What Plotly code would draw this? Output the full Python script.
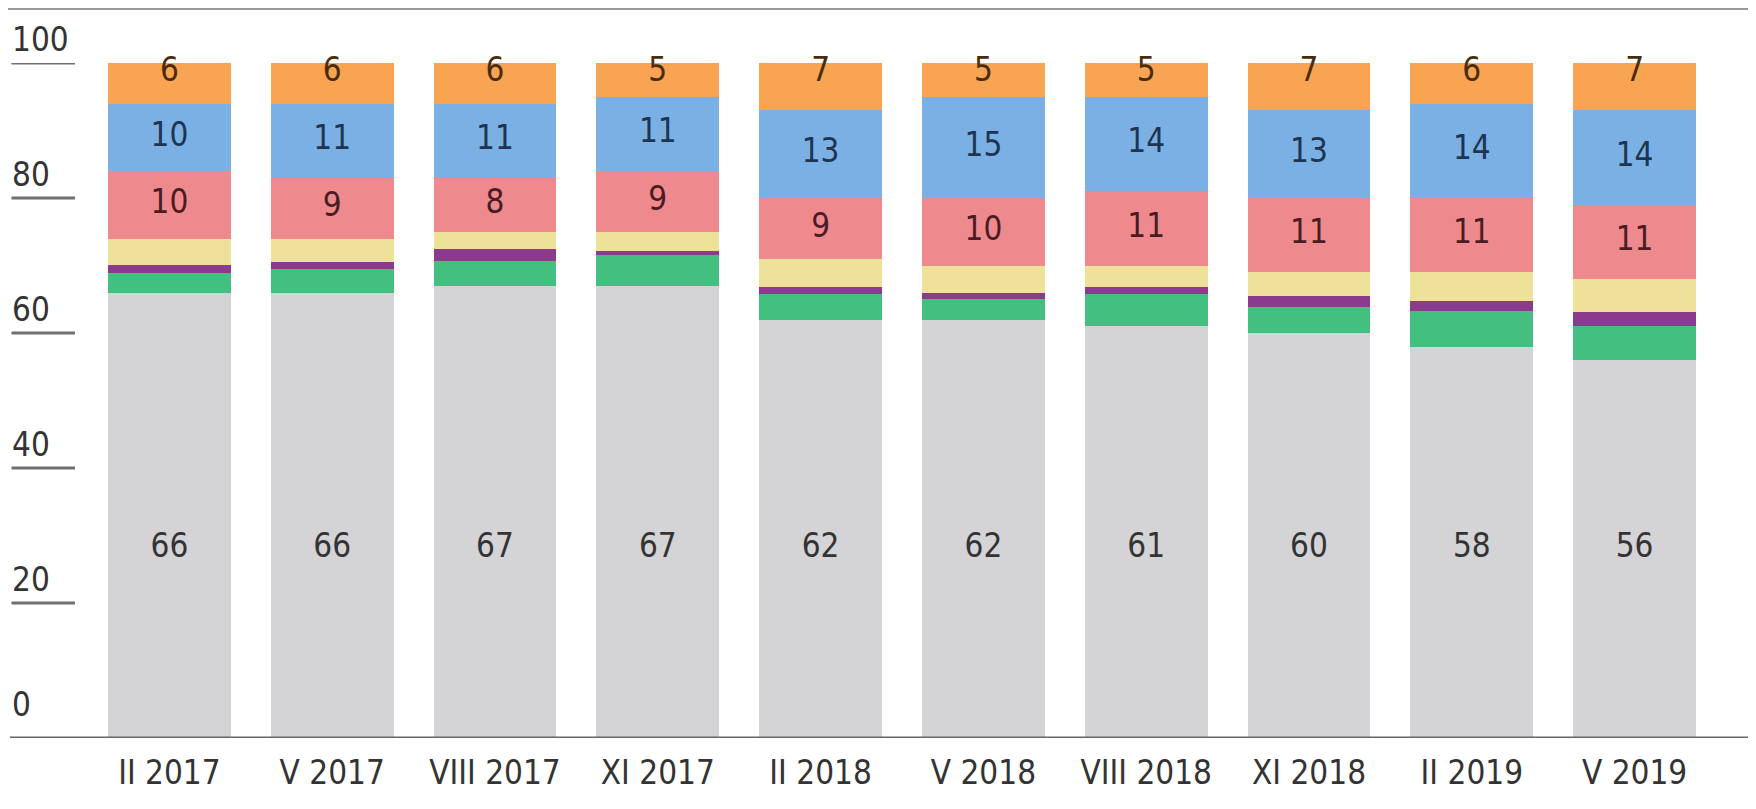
import plotly.graph_objects as go

# survey waves
categories = ["II 2017", "V 2017", "VIII 2017", "XI 2017", "II 2018",
              "V 2018", "VIII 2018", "XI 2018", "II 2019", "V 2019"]

# shares in %, bottom to top of each bar
grey = [66, 66, 67, 67, 62, 62, 61, 60, 58, 56]
green = [2.9, 3.5, 3.7, 4.6, 3.8, 3.0, 4.8, 3.8, 5.3, 5.1]
purple = [1.2, 1.0, 1.8, 0.6, 1.0, 1.0, 1.0, 1.7, 1.4, 2.0]
yellow = [3.9, 3.5, 2.5, 2.8, 4.2, 4.0, 3.2, 3.5, 4.3, 4.9]
pink = [10, 9, 8, 9, 9, 10, 11, 11, 11, 11]
blue = [10, 11, 11, 11, 13, 15, 14, 13, 14, 14]
orange = [6, 6, 6, 5, 7, 5, 5, 7, 6, 7]

y_ticks = [0, 20, 40, 60, 80, 100]

FONT = "DejaVu Sans Condensed, Liberation Sans Narrow, sans-serif"
SIZE = 33

series = [
    # name, values, fill, label colour (None = no label)
    ("grey", grey, "#D4D4D6", "#333333"),
    ("green", green, "#43C07F", None),
    ("purple", purple, "#8B3A8E", None),
    ("yellow", yellow, "#EEE29A", None),
    ("pink", pink, "#EE8A8E", "#4a1c22"),
    ("blue", blue, "#7BB0E4", "#1d3452"),
    ("orange", orange, "#F9A452", "#4a2c0c"),
]

fig = go.Figure()
base = [0.0] * len(categories)
labels = []
for name, vals, color, txt_color in series:
    fig.add_trace(go.Bar(
        x=categories, y=vals, name=name,
        marker=dict(color=color, line=dict(width=0)),
        hoverinfo="x+y+name",
    ))
    if txt_color:
        if name == "grey":
            ys = [28] * len(vals)           # common height in the grey block
        elif name == "orange":
            ys = [b + v - 1.4 for b, v in zip(base, vals)]  # near the top
        else:
            ys = [b + v / 2 for b, v in zip(base, vals)]
        labels.append((vals, ys, txt_color))
    base = [b + v for b, v in zip(base, vals)]

for vals, ys, txt_color in labels:
    fig.add_trace(go.Scatter(
        x=categories, y=ys, mode="text",
        text=[str(v) for v in vals],
        textfont=dict(family=FONT, size=SIZE, color=txt_color),
        showlegend=False, hoverinfo="skip", cliponaxis=False,
    ))

# y-axis labels, left aligned and underlined
annotations = []
shapes = []
for v in y_ticks:
    annotations.append(dict(
        x=-0.048, xref="paper", y=v, yref="y",
        text=str(v), showarrow=False, xanchor="left", yanchor="bottom",
        yshift=12 if v == 0 else 2,
        font=dict(family=FONT, size=SIZE, color="#333333"),
    ))
    if v != 0:
        shapes.append(dict(
            type="line", xref="paper", yref="y",
            x0=-0.047, x1=-0.008, y0=v, y1=v,
            line=dict(color="#6f6f6f", width=3),
        ))

# baseline and thin frame line at the top
shapes.append(dict(type="line", xref="paper", yref="y",
                   x0=-0.048, x1=1.04, y0=0, y1=0,
                   line=dict(color="#666666", width=3)))
shapes.append(dict(type="line", xref="paper", yref="paper",
                   x0=-0.06, x1=1.04, y0=1.08, y1=1.08,
                   line=dict(color="#9a9a9a", width=2)))

fig.update_layout(
    barmode="stack",
    bargap=0.245,
    width=1756, height=809,
    margin=dict(l=80, r=48, t=55, b=79, autoexpand=False),
    paper_bgcolor="white", plot_bgcolor="white",
    showlegend=False,
    annotations=annotations,
    shapes=shapes,
    xaxis=dict(
        showgrid=False, zeroline=False, showline=False, ticks="",
        tickfont=dict(family=FONT, size=SIZE, color="#333333"),
        ticklabelstandoff=12, automargin=False,
    ),
    yaxis=dict(
        range=[0, 100], showgrid=False, zeroline=False, showline=False,
        showticklabels=False, ticks="", automargin=False,
    ),
)

fig.write_html("out.html")
